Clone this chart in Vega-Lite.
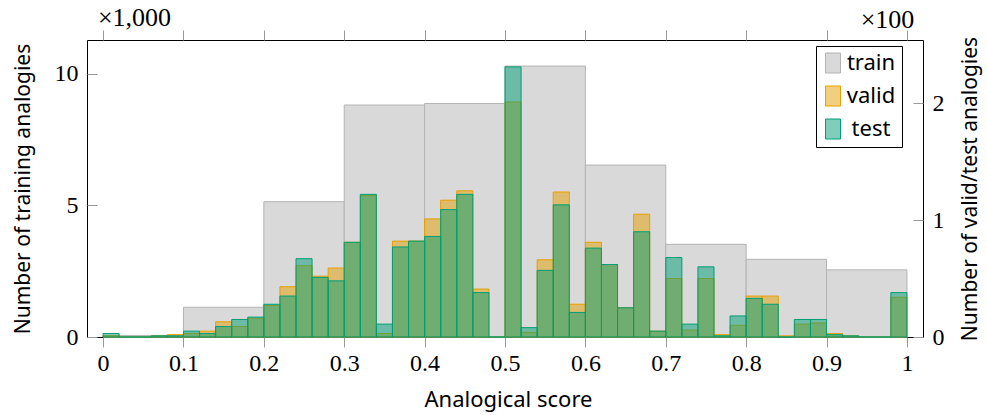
{
  "$schema": "https://vega.github.io/schema/vega-lite/v6.json",
  "width": 836,
  "height": 297,
  "autosize": "none",
  "padding": {"left": 87, "top": 40, "right": 64, "bottom": 78},
  "background": "white",
  "config": {
    "view": {"stroke": "black", "strokeWidth": 1},
    "axis": {
      "grid": false,
      "domain": false,
      "tickColor": "#9a9a9a",
      "tickWidth": 1,
      "labelColor": "black",
      "titleColor": "black",
      "labelFont": "Liberation Serif",
      "labelFontSize": 24,
      "titleFontWeight": "normal"
    },
    "legend": {
      "symbolType": "M-0.75,-1L0.75,-1L0.75,1L-0.75,1Z",
      "symbolSize": 400,
      "symbolStrokeWidth": 1,
      "labelFont": "Noto Sans",
      "labelFontSize": 22,
      "labelColor": "black",
      "labelAlign": "center",
      "padding": 6,
      "strokeColor": "black",
      "fillColor": "white",
      "rowPadding": 9,
      "labelOffset": 27
    }
  },
  "data": {
    "values": [
      {"split": "train", "start": 0, "end": 0.1, "count": 60},
      {"split": "train", "start": 0.1, "end": 0.2, "count": 1130},
      {"split": "train", "start": 0.2, "end": 0.3, "count": 5140},
      {"split": "train", "start": 0.3, "end": 0.4, "count": 8810},
      {"split": "train", "start": 0.4, "end": 0.5, "count": 8870},
      {"split": "train", "start": 0.5, "end": 0.6, "count": 10290},
      {"split": "train", "start": 0.6, "end": 0.7, "count": 6530},
      {"split": "train", "start": 0.7, "end": 0.8, "count": 3520},
      {"split": "train", "start": 0.8, "end": 0.9, "count": 2950},
      {"split": "train", "start": 0.9, "end": 1, "count": 2550},
      {"split": "valid", "start": 0, "end": 0.02, "count": 1},
      {"split": "valid", "start": 0.02, "end": 0.04, "count": 0},
      {"split": "valid", "start": 0.04, "end": 0.06, "count": 0},
      {"split": "valid", "start": 0.06, "end": 0.08, "count": 1},
      {"split": "valid", "start": 0.08, "end": 0.1, "count": 2},
      {"split": "valid", "start": 0.1, "end": 0.12, "count": 3},
      {"split": "valid", "start": 0.12, "end": 0.14, "count": 5},
      {"split": "valid", "start": 0.14, "end": 0.16, "count": 13},
      {"split": "valid", "start": 0.16, "end": 0.18, "count": 9},
      {"split": "valid", "start": 0.18, "end": 0.2, "count": 16},
      {"split": "valid", "start": 0.2, "end": 0.22, "count": 27},
      {"split": "valid", "start": 0.22, "end": 0.24, "count": 43},
      {"split": "valid", "start": 0.24, "end": 0.26, "count": 61},
      {"split": "valid", "start": 0.26, "end": 0.28, "count": 52},
      {"split": "valid", "start": 0.28, "end": 0.3, "count": 59},
      {"split": "valid", "start": 0.3, "end": 0.32, "count": 81},
      {"split": "valid", "start": 0.32, "end": 0.34, "count": 121},
      {"split": "valid", "start": 0.34, "end": 0.36, "count": 3},
      {"split": "valid", "start": 0.36, "end": 0.38, "count": 82},
      {"split": "valid", "start": 0.38, "end": 0.4, "count": 82},
      {"split": "valid", "start": 0.4, "end": 0.42, "count": 101},
      {"split": "valid", "start": 0.42, "end": 0.44, "count": 117},
      {"split": "valid", "start": 0.44, "end": 0.46, "count": 125},
      {"split": "valid", "start": 0.46, "end": 0.48, "count": 41},
      {"split": "valid", "start": 0.48, "end": 0.5, "count": 0},
      {"split": "valid", "start": 0.5, "end": 0.52, "count": 201},
      {"split": "valid", "start": 0.52, "end": 0.54, "count": 4},
      {"split": "valid", "start": 0.54, "end": 0.56, "count": 66},
      {"split": "valid", "start": 0.56, "end": 0.58, "count": 124},
      {"split": "valid", "start": 0.58, "end": 0.6, "count": 28},
      {"split": "valid", "start": 0.6, "end": 0.62, "count": 81},
      {"split": "valid", "start": 0.62, "end": 0.64, "count": 62},
      {"split": "valid", "start": 0.64, "end": 0.66, "count": 25},
      {"split": "valid", "start": 0.66, "end": 0.68, "count": 105},
      {"split": "valid", "start": 0.68, "end": 0.7, "count": 5},
      {"split": "valid", "start": 0.7, "end": 0.72, "count": 50},
      {"split": "valid", "start": 0.72, "end": 0.74, "count": 6},
      {"split": "valid", "start": 0.74, "end": 0.76, "count": 50},
      {"split": "valid", "start": 0.76, "end": 0.78, "count": 2},
      {"split": "valid", "start": 0.78, "end": 0.8, "count": 10},
      {"split": "valid", "start": 0.8, "end": 0.82, "count": 35},
      {"split": "valid", "start": 0.82, "end": 0.84, "count": 35},
      {"split": "valid", "start": 0.84, "end": 0.86, "count": 1},
      {"split": "valid", "start": 0.86, "end": 0.88, "count": 11},
      {"split": "valid", "start": 0.88, "end": 0.9, "count": 12},
      {"split": "valid", "start": 0.9, "end": 0.92, "count": 3},
      {"split": "valid", "start": 0.92, "end": 0.94, "count": 1},
      {"split": "valid", "start": 0.94, "end": 0.96, "count": 0},
      {"split": "valid", "start": 0.96, "end": 0.98, "count": 0},
      {"split": "valid", "start": 0.98, "end": 1, "count": 34},
      {"split": "test", "start": 0, "end": 0.02, "count": 3},
      {"split": "test", "start": 0.02, "end": 0.04, "count": 0},
      {"split": "test", "start": 0.04, "end": 0.06, "count": 0},
      {"split": "test", "start": 0.06, "end": 0.08, "count": 1},
      {"split": "test", "start": 0.08, "end": 0.1, "count": 1},
      {"split": "test", "start": 0.1, "end": 0.12, "count": 5},
      {"split": "test", "start": 0.12, "end": 0.14, "count": 3},
      {"split": "test", "start": 0.14, "end": 0.16, "count": 9},
      {"split": "test", "start": 0.16, "end": 0.18, "count": 15},
      {"split": "test", "start": 0.18, "end": 0.2, "count": 17},
      {"split": "test", "start": 0.2, "end": 0.22, "count": 28},
      {"split": "test", "start": 0.22, "end": 0.24, "count": 35},
      {"split": "test", "start": 0.24, "end": 0.26, "count": 67},
      {"split": "test", "start": 0.26, "end": 0.28, "count": 51},
      {"split": "test", "start": 0.28, "end": 0.3, "count": 48},
      {"split": "test", "start": 0.3, "end": 0.32, "count": 81},
      {"split": "test", "start": 0.32, "end": 0.34, "count": 122},
      {"split": "test", "start": 0.34, "end": 0.36, "count": 11},
      {"split": "test", "start": 0.36, "end": 0.38, "count": 77},
      {"split": "test", "start": 0.38, "end": 0.4, "count": 82},
      {"split": "test", "start": 0.4, "end": 0.42, "count": 86},
      {"split": "test", "start": 0.42, "end": 0.44, "count": 109},
      {"split": "test", "start": 0.44, "end": 0.46, "count": 122},
      {"split": "test", "start": 0.46, "end": 0.48, "count": 38},
      {"split": "test", "start": 0.48, "end": 0.5, "count": 0},
      {"split": "test", "start": 0.5, "end": 0.52, "count": 231},
      {"split": "test", "start": 0.52, "end": 0.54, "count": 8},
      {"split": "test", "start": 0.54, "end": 0.56, "count": 57},
      {"split": "test", "start": 0.56, "end": 0.58, "count": 113},
      {"split": "test", "start": 0.58, "end": 0.6, "count": 21},
      {"split": "test", "start": 0.6, "end": 0.62, "count": 76},
      {"split": "test", "start": 0.62, "end": 0.64, "count": 62},
      {"split": "test", "start": 0.64, "end": 0.66, "count": 25},
      {"split": "test", "start": 0.66, "end": 0.68, "count": 90},
      {"split": "test", "start": 0.68, "end": 0.7, "count": 5},
      {"split": "test", "start": 0.7, "end": 0.72, "count": 68},
      {"split": "test", "start": 0.72, "end": 0.74, "count": 11},
      {"split": "test", "start": 0.74, "end": 0.76, "count": 60},
      {"split": "test", "start": 0.76, "end": 0.78, "count": 1},
      {"split": "test", "start": 0.78, "end": 0.8, "count": 18},
      {"split": "test", "start": 0.8, "end": 0.82, "count": 33},
      {"split": "test", "start": 0.82, "end": 0.84, "count": 28},
      {"split": "test", "start": 0.84, "end": 0.86, "count": 0},
      {"split": "test", "start": 0.86, "end": 0.88, "count": 15},
      {"split": "test", "start": 0.88, "end": 0.9, "count": 15},
      {"split": "test", "start": 0.9, "end": 0.92, "count": 2},
      {"split": "test", "start": 0.92, "end": 0.94, "count": 1},
      {"split": "test", "start": 0.94, "end": 0.96, "count": 0},
      {"split": "test", "start": 0.96, "end": 0.98, "count": 0},
      {"split": "test", "start": 0.98, "end": 1, "count": 38}
    ]
  },
  "layer": [
    {
      "transform": [{"filter": "datum.split == 'train'"}],
      "mark": {"type": "bar", "strokeWidth": 1, "cornerRadius": 0},
      "encoding": {
        "x": {
          "field": "start", "type": "quantitative",
          "scale": {"domain": [-0.02, 1.02], "nice": false, "zero": false},
          "axis": {
            "orient": "bottom",
            "values": [0, 0.1, 0.2, 0.3, 0.4, 0.5, 0.6, 0.7, 0.8, 0.9, 1],
            "format": "~g",
            "tickSize": 10,
            "labelPadding": 4,
            "labelBaseline": "top",
            "title": "Analogical score",
            "titleFont": "Noto Sans",
            "titleFontSize": 22,
            "titleX": 421,
            "titleY": 62,
            "titleAlign": "center",
            "titleBaseline": "middle"
          }
        },
        "x2": {"field": "end"},
        "y": {
          "field": "count", "type": "quantitative", "stack": null,
          "scale": {"domain": [0, 11280], "nice": false},
          "axis": {
            "orient": "left",
            "values": [0, 5000, 10000],
            "labelExpr": "datum.value / 1000",
            "tickSize": -10,
            "labelPadding": 19,
            "labelBaseline": "middle",
            "title": "Number of training analogies",
            "titleFont": "Noto Sans",
            "titleFontSize": 21,
            "titleAngle": -90,
            "titleX": -64,
            "titleY": 148.5,
            "titleAlign": "center",
            "titleBaseline": "middle"
          }
        },
        "y2": {"datum": 0},
        "fill": {
          "field": "split", "type": "nominal",
          "scale": {"domain": ["train", "valid", "test"], "range": ["#d9d9d9", "rgba(230,159,0,0.5)", "rgba(0,158,115,0.5)"]},
          "legend": {"title": null, "orient": "none", "legendX": 729, "legendY": 6}
        },
        "stroke": {
          "field": "split", "type": "nominal",
          "scale": {"domain": ["train", "valid", "test"], "range": ["#b3b3b3", "#E69F00", "#009E73"]},
          "legend": {"title": null, "orient": "none", "legendX": 729, "legendY": 6}
        }
      }
    },
    {
      "transform": [{"filter": "datum.split != 'train'"}],
      "mark": {"type": "bar", "strokeWidth": 1, "cornerRadius": 0},
      "encoding": {
        "x": {
          "field": "start", "type": "quantitative",
          "axis": {
            "orient": "top",
            "values": [0, 0.1, 0.2, 0.3, 0.4, 0.5, 0.6, 0.7, 0.8, 0.9, 1],
            "tickSize": 10,
            "labels": false,
            "title": "×1,000",
            "titleFont": "Liberation Serif",
            "titleFontSize": 26,
            "titleX": 47,
            "titleY": -23,
            "titleAlign": "center",
            "titleBaseline": "middle"
          }
        },
        "x2": {"field": "end"},
        "y": {
          "field": "count", "type": "quantitative", "stack": null,
          "scale": {"domain": [0, 254], "nice": false},
          "axis": {
            "orient": "right",
            "values": [0, 100, 200],
            "labelExpr": "datum.value / 100",
            "tickSize": -10,
            "labelPadding": 19,
            "labelBaseline": "middle",
            "title": "Number of valid/test analogies",
            "titleFont": "Noto Sans",
            "titleFontSize": 21,
            "titleAngle": -90,
            "titleX": 47,
            "titleY": 148.5,
            "titleAlign": "center",
            "titleBaseline": "middle"
          }
        },
        "y2": {"datum": 0},
        "fill": {"field": "split", "type": "nominal", "legend": {"title": null, "orient": "none", "legendX": 729, "legendY": 6}},
        "stroke": {"field": "split", "type": "nominal", "legend": {"title": null, "orient": "none", "legendX": 729, "legendY": 6}}
      }
    },
    {
      "transform": [{"filter": "datum.split == 'train'"}],
      "mark": {"type": "rule", "opacity": 0},
      "encoding": {
        "x": {
          "field": "start", "type": "quantitative",
          "axis": {
            "orient": "top",
            "ticks": false,
            "labels": false,
            "title": "×100",
            "titleFont": "Liberation Serif",
            "titleFontSize": 26,
            "titleX": 800,
            "titleY": -21,
            "titleAlign": "center",
            "titleBaseline": "middle"
          }
        }
      }
    }
  ],
  "resolve": {
    "scale": {"y": "independent"},
    "axis": {"x": "independent", "y": "independent"}
  }
}
